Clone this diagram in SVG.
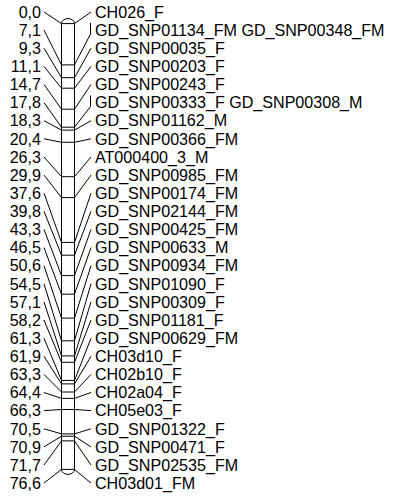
<svg xmlns="http://www.w3.org/2000/svg" width="394" height="497" viewBox="0 0 394 497">
<style>
text{font-family:"Liberation Sans",Arial,sans-serif;font-size:16.1px;fill:#000}
.l{text-anchor:end}
.c{fill:none;stroke:#000;stroke-width:1}
.m{stroke:#000;stroke-width:1}
</style>
<rect width="394" height="497" fill="#fff"/>
<g id="chromosome">
<path class="c" d="M61.5,23.6 A6.5,5 0 0 1 74.5,23.6 Z M61.5,23.6 L61.5,469.4 M74.5,23.6 L74.5,469.4 M61.5,469.4 A6.5,5 0 0 0 74.5,469.4 Z"/>
<g class="m">
<line x1="61.5" x2="74.5" y1="64.9" y2="64.9"/>
<line x1="61.5" x2="74.5" y1="77.7" y2="77.7"/>
<line x1="61.5" x2="74.5" y1="88.2" y2="88.2"/>
<line x1="61.5" x2="74.5" y1="109.2" y2="109.2"/>
<line x1="61.5" x2="74.5" y1="127.2" y2="127.2"/>
<line x1="61.5" x2="74.5" y1="130.1" y2="130.1"/>
<line x1="61.5" x2="74.5" y1="142.3" y2="142.3"/>
<line x1="61.5" x2="74.5" y1="176.7" y2="176.7"/>
<line x1="61.5" x2="74.5" y1="197.6" y2="197.6"/>
<line x1="61.5" x2="74.5" y1="242.4" y2="242.4"/>
<line x1="61.5" x2="74.5" y1="255.2" y2="255.2"/>
<line x1="61.5" x2="74.5" y1="275.6" y2="275.6"/>
<line x1="61.5" x2="74.5" y1="294.2" y2="294.2"/>
<line x1="61.5" x2="74.5" y1="318.1" y2="318.1"/>
<line x1="61.5" x2="74.5" y1="340.8" y2="340.8"/>
<line x1="61.5" x2="74.5" y1="355.9" y2="355.9"/>
<line x1="61.5" x2="74.5" y1="362.3" y2="362.3"/>
<line x1="61.5" x2="74.5" y1="380.4" y2="380.4"/>
<line x1="61.5" x2="74.5" y1="383.9" y2="383.9"/>
<line x1="61.5" x2="74.5" y1="392.0" y2="392.0"/>
<line x1="61.5" x2="74.5" y1="398.4" y2="398.4"/>
<line x1="61.5" x2="74.5" y1="409.5" y2="409.5"/>
<line x1="61.5" x2="74.5" y1="433.9" y2="433.9"/>
<line x1="61.5" x2="74.5" y1="436.2" y2="436.2"/>
<line x1="61.5" x2="74.5" y1="440.9" y2="440.9"/>
</g>
</g>
<g id="connectors" class="c">
<path d="M44,12 L61.5,23.6 M74.5,23.6 L91,12"/>
<path d="M44,30.1 L61.5,64.9 M74.5,64.9 L90.5,34 L90.5,23"/>
<path d="M44,48.2 L61.5,77.7 M74.5,77.7 L91,48.2"/>
<path d="M44,66.4 L61.5,88.2 M74.5,88.2 L91,66.4"/>
<path d="M44,84.5 L61.5,109.2 M74.5,109.2 L91,84.5"/>
<path d="M44,102.6 L61.5,127.2 M74.5,127.2 L90.5,106.5 L90.5,95.5"/>
<path d="M44,120.7 L61.5,130.1 M74.5,130.1 L91,120.7"/>
<path d="M44,138.8 L61.5,142.3 M74.5,142.3 L91,138.8"/>
<path d="M44,157 L61.5,176.7 M74.5,176.7 L91,157"/>
<path d="M44,175.1 L61.5,197.6 M74.5,197.6 L91,175.1"/>
<path d="M44,193.2 L61.5,242.4 M74.5,242.4 L91,193.2"/>
<path d="M44,211.3 L61.5,255.2 M74.5,255.2 L91,211.3"/>
<path d="M44,229.4 L61.5,275.6 M74.5,275.6 L91,229.4"/>
<path d="M44,247.6 L61.5,294.2 M74.5,294.2 L91,247.6"/>
<path d="M44,265.7 L61.5,318.1 M74.5,318.1 L91,265.7"/>
<path d="M44,283.8 L61.5,340.8 M74.5,340.8 L91,283.8"/>
<path d="M44,301.9 L61.5,355.9 M74.5,355.9 L91,301.9"/>
<path d="M44,320 L61.5,362.3 M74.5,362.3 L91,320"/>
<path d="M44,338.2 L61.5,380.4 M74.5,380.4 L91,338.2"/>
<path d="M44,356.3 L61.5,383.9 M74.5,383.9 L91,356.3"/>
<path d="M44,374.4 L61.5,392.0 M74.5,392.0 L91,374.4"/>
<path d="M44,392.5 L61.5,398.4 M74.5,398.4 L91,392.5"/>
<path d="M44,410.6 L61.5,409.5 M74.5,409.5 L91,410.6"/>
<path d="M44,428.8 L61.5,433.9 M74.5,433.9 L91,428.8"/>
<path d="M44,446.9 L61.5,436.2 M74.5,436.2 L91,446.9"/>
<path d="M44,465 L61.5,440.9 M74.5,440.9 L91,465"/>
<path d="M44,483.1 L61.5,469.4 M74.5,469.4 L91,483.1"/>
</g>
<g id="positions">
<text class="l" x="41" y="17.7">0,0</text>
<text class="l" x="41" y="35.8">7,1</text>
<text class="l" x="41" y="53.9">9,3</text>
<text class="l" x="41" y="72.1">11,1</text>
<text class="l" x="41" y="90.2">14,7</text>
<text class="l" x="41" y="108.3">17,8</text>
<text class="l" x="41" y="126.4">18,3</text>
<text class="l" x="41" y="144.5">20,4</text>
<text class="l" x="41" y="162.7">26,3</text>
<text class="l" x="41" y="180.8">29,9</text>
<text class="l" x="41" y="198.9">37,6</text>
<text class="l" x="41" y="217">39,8</text>
<text class="l" x="41" y="235.1">43,3</text>
<text class="l" x="41" y="253.3">46,5</text>
<text class="l" x="41" y="271.4">50,6</text>
<text class="l" x="41" y="289.5">54,5</text>
<text class="l" x="41" y="307.6">57,1</text>
<text class="l" x="41" y="325.7">58,2</text>
<text class="l" x="41" y="343.9">61,3</text>
<text class="l" x="41" y="362">61,9</text>
<text class="l" x="41" y="380.1">63,3</text>
<text class="l" x="41" y="398.2">64,4</text>
<text class="l" x="41" y="416.3">66,3</text>
<text class="l" x="41" y="434.5">70,5</text>
<text class="l" x="41" y="452.6">70,9</text>
<text class="l" x="41" y="470.7">71,7</text>
<text class="l" x="41" y="488.8">76,6</text>
</g>
<g id="markers">
<text x="95" y="17.7">CH026_F</text>
<text x="95" y="35.8">GD_SNP01134_FM GD_SNP00348_FM</text>
<text x="95" y="53.9">GD_SNP00035_F</text>
<text x="95" y="72.1">GD_SNP00203_F</text>
<text x="95" y="90.2">GD_SNP00243_F</text>
<text x="95" y="108.3">GD_SNP00333_F GD_SNP00308_M</text>
<text x="95" y="126.4">GD_SNP01162_M</text>
<text x="95" y="144.5">GD_SNP00366_FM</text>
<text x="95" y="162.7">AT000400_3_M</text>
<text x="95" y="180.8">GD_SNP00985_FM</text>
<text x="95" y="198.9">GD_SNP00174_FM</text>
<text x="95" y="217">GD_SNP02144_FM</text>
<text x="95" y="235.1">GD_SNP00425_FM</text>
<text x="95" y="253.3">GD_SNP00633_M</text>
<text x="95" y="271.4">GD_SNP00934_FM</text>
<text x="95" y="289.5">GD_SNP01090_F</text>
<text x="95" y="307.6">GD_SNP00309_F</text>
<text x="95" y="325.7">GD_SNP01181_F</text>
<text x="95" y="343.9">GD_SNP00629_FM</text>
<text x="95" y="362">CH03d10_F</text>
<text x="95" y="380.1">CH02b10_F</text>
<text x="95" y="398.2">CH02a04_F</text>
<text x="95" y="416.3">CH05e03_F</text>
<text x="95" y="434.5">GD_SNP01322_F</text>
<text x="95" y="452.6">GD_SNP00471_F</text>
<text x="95" y="470.7">GD_SNP02535_FM</text>
<text x="95" y="488.8">CH03d01_FM</text>
</g>
</svg>
